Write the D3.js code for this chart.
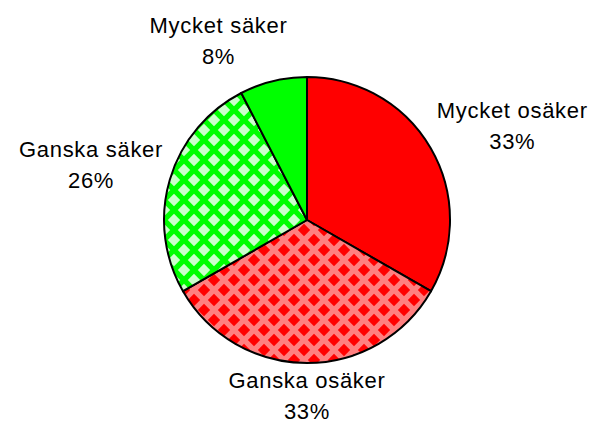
<!DOCTYPE html>
<html>
<head>
<meta charset="utf-8">
<script src="https://cdn.jsdelivr.net/npm/d3@7"></script>
<style>
  body { margin: 0; background: #fff; }
  svg { display: block; }
  text { font-family: "Liberation Sans", Arial, Helvetica, sans-serif; font-size: 22px; fill: #000; letter-spacing: 0.7px; }
</style>
</head>
<body>
<svg id="chart" width="595" height="424"></svg>
<script>
'use strict'

// answers, clockwise from 12 o'clock
const categories = ['Mycket osäker', 'Ganska osäker', 'Ganska säker', 'Mycket säker']
const shares = [33.3, 33.4, 25.7, 7.6]
const fills = [
  { bg: '#ff0000', fg: null },
  { bg: '#ff8080', fg: '#ff0000' },
  { bg: '#00ff00', fg: '#ccffcc' },
  { bg: '#00ff00', fg: null }
]

const cx = 307
const cy = 220
const radius = 143

const svg = d3.select('#chart')
const defs = svg.append('defs')

// diamond pattern, one diamond in the middle and quarters at the corners
const tile = 20
const half = 6.2
fills.forEach((f, i) => {
  if (!f.fg) return
  const p = defs.append('pattern')
    .attr('id', `diamonds-${i}`)
    .attr('patternUnits', 'userSpaceOnUse')
    .attr('x', cx).attr('y', cy)
    .attr('width', tile).attr('height', tile)
  p.append('rect').attr('width', tile).attr('height', tile).attr('fill', f.bg)
  const centres = [[tile / 2, tile / 2], [0, 0], [tile, 0], [0, tile], [tile, tile]]
  centres.forEach(([x, y]) => {
    p.append('path')
      .attr('d', `M${x},${y - half}L${x + half},${y}L${x},${y + half}L${x - half},${y}Z`)
      .attr('fill', f.fg)
  })
})

const pie = d3.pie().sort(null).value(d => d)
const arcs = pie(shares)
const arc = d3.arc().innerRadius(0).outerRadius(radius)

const g = svg.append('g').attr('transform', `translate(${cx},${cy})`)

g.selectAll('path.slice')
  .data(arcs)
  .enter()
  .append('path')
  .attr('class', 'slice')
  .attr('d', arc)
  .attr('fill', (d, i) => fills[i].fg ? `url(#diamonds-${i})` : fills[i].bg)
  .attr('stroke', '#000')
  .attr('stroke-width', 2)
  .attr('stroke-linejoin', 'round')

// labels sit outside the rim, pushed away along the slice's middle angle
const labelRx = 150
const labelRy = 156
const boxH = 48
const lineGap = 31

const labels = g.selectAll('g.label')
  .data(arcs)
  .enter()
  .append('g')
  .attr('class', 'label')

labels.each((d, i, nodes) => {
  const label = d3.select(nodes[i])
  const a = (d.startAngle + d.endAngle) / 2
  const sx = Math.sin(a)
  const sy = -Math.cos(a)

  const t1 = label.append('text').attr('text-anchor', 'middle').text(categories[i])
  const t2 = label.append('text').attr('text-anchor', 'middle').text(`${Math.round(d.data)}%`)
  const w = t1.node().getComputedTextLength()

  const f = Math.max(-1, Math.min(1, sx * 3.25))
  const bx = labelRx * sx + f * w / 2
  const by = labelRy * sy + sy * boxH / 2 - 4

  t1.attr('x', bx).attr('y', by - boxH / 2 + 16)
  t2.attr('x', bx).attr('y', by - boxH / 2 + 16 + lineGap)
})
</script>
</body>
</html>
